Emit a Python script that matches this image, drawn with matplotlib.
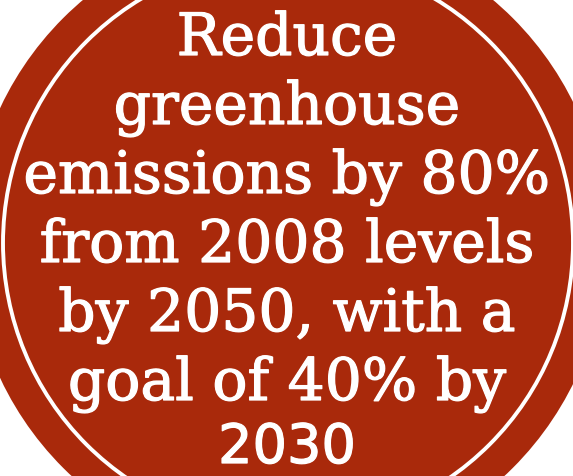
import matplotlib
matplotlib.use("Agg")
import matplotlib.pyplot as plt
from matplotlib.patches import Circle
import matplotlib.patheffects as pe

# Content
lines = ["Reduce", "greenhouse", "emissions by 80%", "from 2008 levels",
         "by 2050, with a", "goal of 40% by", "2030"]
line_fonts = ["DejaVu Serif"] * 6 + ["DejaVu Sans"]

RED = "#A9290B"
W, H = 573, 476
fig = plt.figure(figsize=(W / 100, H / 100), dpi=100)
ax = fig.add_axes([0, 0, 1, 1])
ax.set_xlim(0, W)
ax.set_ylim(H, 0)
ax.set_aspect("equal")
ax.axis("off")

cx, cy = 288, 243
ax.add_patch(Circle((cx, cy), 318, facecolor=RED, edgecolor="none"))
ax.add_patch(Circle((cx, cy), 285, facecolor="none", edgecolor="white", linewidth=2.8))

baseline0, step = 55, 69
for i, (txt, fam) in enumerate(zip(lines, line_fonts)):
    last = i == len(lines) - 1
    y = baseline0 + i * step - (6 if last else 0)
    ax.text(cx - 1, y, txt, ha="center", va="baseline",
            color="white", fontsize=39 if last else 42, family=fam,
            path_effects=[pe.withStroke(linewidth=0.9, foreground="white")])

fig.savefig("out.png", dpi=100, facecolor="white")
